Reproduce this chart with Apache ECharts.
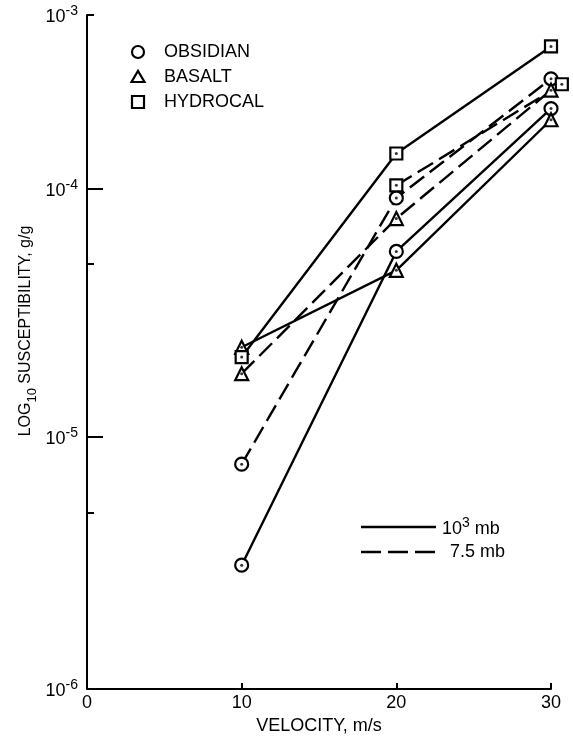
<!DOCTYPE html>
<html><head><meta charset="utf-8">
<script src="https://cdn.jsdelivr.net/npm/echarts@6/dist/echarts.min.js"></script>
<style>html,body{margin:0;padding:0;background:#fff}#c{width:573px;height:739px}</style>
</head><body><div id="c"></div>
<script>
// ---------- data ----------
const velocity = [10, 20, 30];                 // m/s
const hydrocalLowVelocity = [10, 20, 30.7];    // last point drawn offset to the right in the original
const obsidianHigh = [3.1e-6, 5.6e-5, 2.9e-4]; // 10^3 mb (solid)
const obsidianLow  = [7.8e-6, 9.2e-5, 4.3e-4]; // 7.5 mb (dashed)
const basaltHigh   = [2.3e-5, 4.7e-5, 2.5e-4];
const basaltLow    = [1.8e-5, 7.6e-5, 3.7e-4];
const hydrocalHigh = [2.1e-5, 1.6e-4, 6.6e-4];
const hydrocalLow  = [null, 1.05e-4, 4.0e-4];

const materials = ['OBSIDIAN', 'BASALT', 'HYDROCAL'];
const pressureLabels = ['10^3 mb', '7.5 mb'];
const decadeTicks = [1e-6, 1e-5, 1e-4, 1e-3];
const decadeExponents = ['-6', '-5', '-4', '-3'];
const halfDecadeTicks = [5e-6, 5e-5];
const xTickValues = [0, 10, 20, 30];

// ---------- layout: the original y axis has unequal decade lengths ----------
const decadeSpan = [252, 248, 174]; // screen length of 1e-6..1e-5, 1e-5..1e-4, 1e-4..1e-3
const decadeStart = [0, 252, 500, 674];
function yScale(v) {
  if (v === null || v === undefined) return '-';
  const L = Math.log10(v) + 6;
  const i = Math.min(2, Math.max(0, Math.floor(L + 1e-9)));
  return decadeStart[i] + (L - i) * decadeSpan[i];
}

const FONT = '"Liberation Sans", Arial, Helvetica, sans-serif';
const INK = '#000';
const DASH = [18, 7];
const LW = 2.4;

const seriesDefs = [
  { name: 'OBSIDIAN 10^3 mb', x: velocity, y: obsidianHigh, symbol: 'circle', dash: false },
  { name: 'OBSIDIAN 7.5 mb', x: velocity, y: obsidianLow, symbol: 'circle', dash: true },
  { name: 'BASALT 10^3 mb', x: velocity, y: basaltHigh, symbol: 'triangle', dash: false },
  { name: 'BASALT 7.5 mb', x: velocity, y: basaltLow, symbol: 'triangle', dash: true },
  { name: 'HYDROCAL 10^3 mb', x: velocity, y: hydrocalHigh, symbol: 'rect', dash: false },
  { name: 'HYDROCAL 7.5 mb', x: hydrocalLowVelocity, y: hydrocalLow, symbol: 'rect', dash: true }
];

const series = seriesDefs.map(d => ({
  name: d.name,
  type: 'line',
  data: d.x.map((x, i) => [x, yScale(d.y[i])]),
  symbol: d.symbol,
  symbolSize: d.symbol === 'rect' ? 12 : 13,
  showSymbol: true,
  connectNulls: false,
  clip: false,
  lineStyle: { color: INK, width: LW, type: d.dash ? DASH : 'solid' },
  itemStyle: { color: '#fff', borderColor: INK, borderWidth: 2.2 },
  emphasis: { disabled: true },
  z: 2
}));

const dots = [];
seriesDefs.forEach(d => d.x.forEach((x, i) => { if (d.y[i] !== null) dots.push([x, yScale(d.y[i])]); }));
series.push({
  type: 'scatter', data: dots, symbol: 'circle', symbolSize: 3, clip: false,
  itemStyle: { color: INK }, z: 5, silent: true
});

const supRich = {
  b: { fontSize: 18, fontFamily: FONT, color: INK, verticalAlign: 'bottom', lineHeight: 22 },
  s: { fontSize: 14, fontFamily: FONT, color: INK, verticalAlign: 'bottom', lineHeight: 22, padding: [0, 0, 8, 0] }
};

const chart = echarts.init(document.getElementById('c'), null, { renderer: 'canvas' });
chart.setOption({
  animation: false,
  backgroundColor: '#fff',
  grid: { left: 87, right: 22, top: 15, bottom: 50, containLabel: false, outerBoundsMode: 'none' },
  xAxis: {
    type: 'value', min: 0, max: 30, interval: 10,
    axisLine: { show: true, lineStyle: { color: INK, width: 2 } },
    axisTick: { show: true, inside: true, length: 6, lineStyle: { color: INK, width: 2 }, customValues: xTickValues },
    axisLabel: { color: INK, fontSize: 18, fontFamily: FONT, margin: 5 },
    splitLine: { show: false },
    name: 'VELOCITY, m/s', nameLocation: 'middle', nameGap: 27,
    nameTextStyle: { color: INK, fontSize: 18, fontFamily: FONT }
  },
  yAxis: [
    {
      type: 'value', min: 0, max: decadeStart[3], position: 'left',
      axisLine: { show: true, lineStyle: { color: INK, width: 2 } },
      axisTick: { show: true, inside: true, length: 16, lineStyle: { color: INK, width: 2 },
        customValues: [decadeTicks[1], decadeTicks[2]].map(yScale) },
      axisLabel: {
        customValues: decadeTicks.map(yScale), margin: 9,
        formatter: function (val) {
          let k = 0, best = Infinity;
          decadeTicks.forEach((t, i) => { const dd = Math.abs(yScale(t) - val); if (dd < best) { best = dd; k = i; } });
          return '{b|10}{s|' + decadeExponents[k] + '}';
        },
        rich: supRich
      },
      splitLine: { show: false }
    },
    {
      type: 'value', min: 0, max: decadeStart[3], position: 'left', offset: 0,
      axisLine: { show: false },
      axisTick: { show: true, inside: true, length: 7, lineStyle: { color: INK, width: 2 },
        customValues: halfDecadeTicks.concat([decadeTicks[3]]).map(yScale) },
      axisLabel: { show: false },
      splitLine: { show: false }
    }
  ],
  graphic: [
    { type: 'text', x: 28, y: 331, rotation: Math.PI / 2,
      style: { text: '{a|LOG}{s|10}{a| SUSCEPTIBILITY, g/g}', align: 'center', verticalAlign: 'middle',
        rich: {
          a: { fontSize: 16, fontFamily: FONT, fill: INK, color: INK, verticalAlign: 'bottom', lineHeight: 22, padding: [0, 0, 5, 0] },
          s: { fontSize: 13, fontFamily: FONT, fill: INK, color: INK, verticalAlign: 'bottom', lineHeight: 22 }
        } } },
    // material legend
    { type: 'circle', shape: { cx: 138, cy: 52, r: 6 }, style: { fill: '#fff', stroke: INK, lineWidth: 2.2 } },
    { type: 'polygon', shape: { points: [[131.5, 82], [144.5, 82], [138, 71]] }, style: { fill: '#fff', stroke: INK, lineWidth: 2.2 } },
    { type: 'rect', shape: { x: 132, y: 96, width: 12, height: 12 }, style: { fill: '#fff', stroke: INK, lineWidth: 2.2 } },
    { type: 'text', x: 164, y: 52, style: { text: materials[0], font: '18px ' + FONT, fill: INK, verticalAlign: 'middle' } },
    { type: 'text', x: 164, y: 77, style: { text: materials[1], font: '18px ' + FONT, fill: INK, verticalAlign: 'middle' } },
    { type: 'text', x: 164, y: 102, style: { text: materials[2], font: '18px ' + FONT, fill: INK, verticalAlign: 'middle' } },
    // pressure legend
    { type: 'line', shape: { x1: 361, y1: 527, x2: 436, y2: 527 }, style: { stroke: INK, lineWidth: LW } },
    { type: 'line', shape: { x1: 361, y1: 552, x2: 437, y2: 552 }, style: { stroke: INK, lineWidth: LW, lineDash: [20, 7] } },
    { type: 'text', x: 442, y: 527, style: { text: '{b|10}{s|3}{b| mb}', verticalAlign: 'middle', rich: supRich } },
    { type: 'text', x: 450, y: 552, style: { text: pressureLabels[1], font: '18px ' + FONT, fill: INK, verticalAlign: 'middle' } }
  ],
  series: series
});
</script></body></html>
